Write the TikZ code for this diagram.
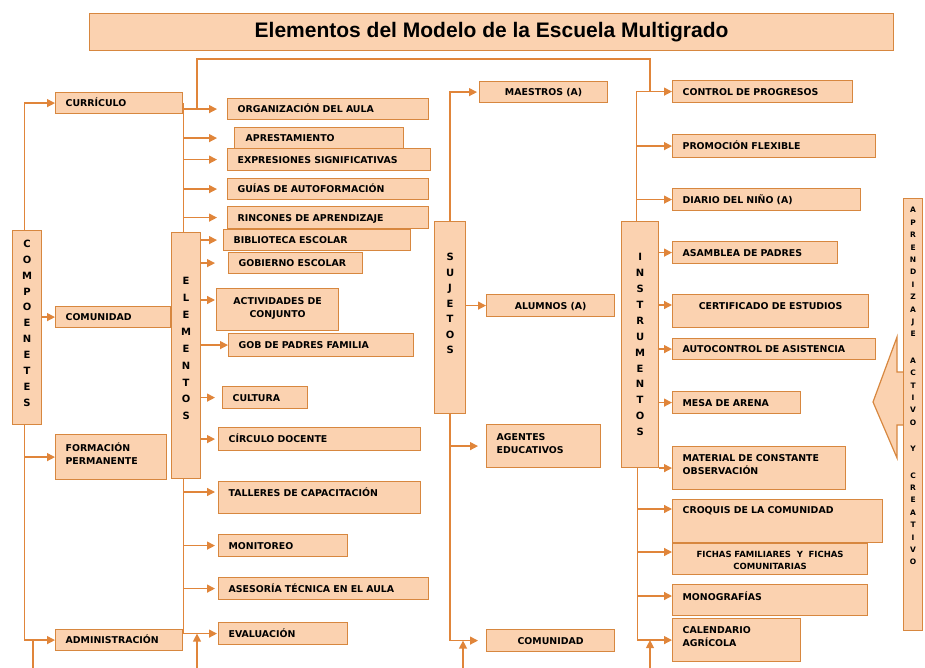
\documentclass[tikz,border=0pt]{standalone}
\usepackage{fontspec}
\setmainfont{Liberation Sans}
\newfontfamily\boxfont{DejaVu Sans}
\usepackage{tikz}
\usetikzlibrary{arrows.meta, positioning, backgrounds}
\definecolor{boxfill}{HTML}{FBD2B0}
\definecolor{boxdraw}{HTML}{D7873F}
\definecolor{linecol}{HTML}{E0853A}
\newcommand{\itemfont}{\boxfont\bfseries\fontsize{9.4}{13}\selectfont}
\newcommand{\smallitemfont}{\boxfont\bfseries\fontsize{8.5}{12}\selectfont}
\newcommand{\vfont}[1]{\boxfont\bfseries\fontsize{10}{#1}\selectfont}
\tikzstyle{arrow} = [draw=linecol, line width=1.3pt, -{Triangle[length=8pt,width=8pt]}]
\tikzstyle{link} = [draw=linecol, line width=1.3pt]
\tikzstyle{item} = [rectangle, draw=boxdraw, fill=boxfill, line width=1.2pt, inner xsep=10pt, inner ysep=0pt, text height=7pt, text depth=0pt, align=left, anchor=north west, font=\itemfont]
\tikzstyle{vbox} = [rectangle, draw=boxdraw, fill=boxfill, line width=1.2pt, inner sep=0pt, align=center, anchor=north west]
\tikzstyle{titlebox} = [rectangle, draw=boxdraw, fill=boxfill, line width=1.2pt, anchor=north west, font=\fontsize{21}{24}\selectfont\bfseries]

\begin{document}
\begin{tikzpicture}[x=1pt, y=-1pt]
\useasboundingbox (0,0) rectangle (925,668);

% Title
\node (title) [titlebox, minimum width=804pt, minimum height=37pt] at (89,13) {Elementos del Modelo de la Escuela Multigrado};

% Componentes
\node (compo) [vbox, minimum width=29pt, minimum height=194pt, text depth=9pt, font=\vfont{15.9}] at (12,230) {C\\O\\M\\P\\O\\E\\N\\E\\T\\E\\S};
\node (curr) [item, text width=107pt, minimum height=21pt] at (55,92) {CURRÍCULO};
\node (comu) [item, text width=95pt, minimum height=21pt] at (55,306) {COMUNIDAD};
\node (form) [item, text width=91pt, minimum height=45pt, text depth=19pt] at (55,434) {FORMACIÓN\\PERMANENTE};
\node (admin) [item, text width=107pt, minimum height=21pt] at (55,629) {ADMINISTRACIÓN};

% Elementos
\node (elem) [vbox, minimum width=29pt, minimum height=246pt, text depth=14pt, font=\vfont{16.9}] at (171,232) {E\\L\\E\\M\\E\\N\\T\\O\\S};
\node (org) [item, text width=181pt, minimum height=21pt] at (227,98) {ORGANIZACIÓN DEL AULA};
\node (apre) [item, text width=147pt, inner xsep=11pt, minimum height=21pt] at (234,127) {APRESTAMIENTO};
\node (expr) [item, text width=183pt, minimum height=22pt] at (227,148) {EXPRESIONES SIGNIFICATIVAS};
\node (guias) [item, text width=181pt, minimum height=21pt] at (227,178) {GUÍAS DE AUTOFORMACIÓN};
\node (rinc) [item, text width=181pt, minimum height=22pt] at (227,206) {RINCONES DE APRENDIZAJE};
\node (bibl) [item, text width=167pt, minimum height=21pt] at (223,229) {BIBLIOTECA ESCOLAR};
\node (gobe) [item, text width=114pt, minimum height=21pt] at (228,252) {GOBIERNO ESCOLAR};
\node (acti) [item, align=center, text width=102pt, minimum height=42pt, text depth=18pt] at (216,288) {ACTIVIDADES DE\\CONJUNTO};
\node (gobp) [item, text width=165pt, minimum height=23pt] at (228,333) {GOB DE PADRES FAMILIA};
\node (cult) [item, text width=65pt, minimum height=22pt] at (222,386) {CULTURA};
\node (circ) [item, text width=182pt, minimum height=23pt] at (218,427) {CÍRCULO DOCENTE};
\node (tall) [item, text width=182pt, minimum height=32pt, text depth=10pt] at (218,481) {TALLERES DE CAPACITACIÓN};
\node (moni) [item, text width=109pt, minimum height=22pt] at (218,534) {MONITOREO};
\node (ases) [item, text width=190pt, minimum height=22pt] at (218,577) {ASESORÍA TÉCNICA EN EL AULA};
\node (eval) [item, text width=109pt, minimum height=22pt] at (218,622) {EVALUACIÓN};

% Sujetos
\node (suje) [vbox, minimum width=31pt, minimum height=192pt, text depth=28pt, font=\vfont{15.5}] at (434,221) {S\\U\\J\\E\\T\\O\\S};
\node (maes) [item, align=center, text width=108pt, minimum height=21pt] at (479,81) {MAESTROS (A)};
\node (alum) [item, align=center, text width=108pt, minimum height=22pt] at (486,294) {ALUMNOS (A)};
\node (agen) [item, text width=94pt, minimum height=43pt, text depth=19pt] at (486,424) {AGENTES\\EDUCATIVOS};
\node (comr) [item, align=center, text width=108pt, minimum height=22pt] at (486,629) {COMUNIDAD};

% Instrumentos
\node (inst) [vbox, minimum width=37pt, minimum height=246pt, font=\vfont{15.9}] at (621,221) {I\\N\\S\\T\\R\\U\\M\\E\\N\\T\\O\\S};
\node (ctrl) [item, text width=160pt, minimum height=22pt] at (672,80) {CONTROL DE PROGRESOS};
\node (prom) [item, text width=183pt, minimum height=23pt] at (672,134) {PROMOCIÓN FLEXIBLE};
\node (diar) [item, text width=168pt, minimum height=22pt] at (672,188) {DIARIO DEL NIÑO (A)};
\node (asam) [item, text width=145pt, minimum height=22pt] at (672,241) {ASAMBLEA DE PADRES};
\node (cert) [item, align=center, text width=176pt, minimum height=33pt, text depth=11pt] at (672,294) {CERTIFICADO DE ESTUDIOS};
\node (auto) [item, text width=183pt, minimum height=21pt] at (672,338) {AUTOCONTROL DE ASISTENCIA};
\node (mesa) [item, text width=108pt, minimum height=22pt] at (672,391) {MESA DE ARENA};
\node (mate) [item, text width=153pt, minimum height=43pt, text depth=21pt] at (672,446) {MATERIAL DE CONSTANTE\\OBSERVACIÓN};
\node (croq) [item, text width=190pt, minimum height=43pt, text depth=23pt] at (672,499) {CROQUIS DE LA COMUNIDAD};
\node (fich) [item, align=center, text width=175pt, minimum height=31pt, text depth=10pt, font=\smallitemfont] at (672,543) {FICHAS FAMILIARES\ \ Y\ \ FICHAS\\COMUNITARIAS};
\node (mono) [item, text width=175pt, minimum height=31pt, text depth=7pt] at (672,584) {MONOGRAFÍAS};
\node (cale) [item, text width=108pt, minimum height=43pt, text depth=21pt] at (672,618) {CALENDARIO\\AGRÍCOLA};

% Aprendizaje
\node (apren) [vbox, minimum width=19pt, minimum height=432pt, text depth=57pt, font=\boxfont\bfseries\fontsize{7.5}{12.4}\selectfont] at (903,198) {A\\P\\R\\E\\N\\D\\I\\Z\\A\\J\\E\\[14pt]A\\C\\T\\I\\V\\O\\[14pt]Y\\[14pt]C\\R\\E\\A\\T\\I\\V\\O};

% Free ends and entry points
\coordinate (lbot) at ([xshift=-2.5pt]compo.south);
\coordinate (lfoot) at (33,668);
\coordinate (efoot) at (197,668);
\coordinate (sfoot) at (463,668);
\coordinate (ifoot) at (650,668);
\coordinate (topbar) at (0,59);
\coordinate (etrunk) at (curr.east);
\coordinate (itop) at ([xshift=-3.5pt]inst.north);
\coordinate (ibot) at ([xshift=-2.5pt]inst.south);
\coordinate (actin) at ([yshift=-12pt]acti.north west);
\coordinate (tallin) at ([yshift=-11pt]tall.north west);
\coordinate (certin) at ([yshift=-11pt]cert.north west);
\coordinate (croqin) at ([yshift=-10pt]croq.north west);
\coordinate (fichin) at ([yshift=-9pt]fich.north west);
\coordinate (monoin) at ([yshift=-12pt]mono.north west);

\begin{scope}[on background layer]
% Componentes
\draw [arrow] ([xshift=-2.5pt]compo.north) |- (curr.west);
\draw [arrow] (compo.east |- comu.west) -- (comu.west);
\draw [arrow] (lbot) |- (admin.west);
\draw [arrow] (lbot |- form.west) -- (form.west);
\draw [link] (lfoot) -- (lfoot |- admin.west);

% Elementos
\draw [link] (etrunk) -- (etrunk |- eval.west);
\foreach \n/\g in {org/10, apre/17, expr/10, guias/10, rinc/10, bibl/6, cult/7, moni/3, ases/3, eval/1}
  \draw [arrow, shorten >=\g pt] (etrunk |- \n.west) -- (\n.west);
\draw [arrow, shorten >=1pt] (etrunk |- actin) -- (actin);
\draw [arrow, shorten >=3pt] (etrunk |- tallin) -- (tallin);
\draw [arrow, shorten >=13pt] (elem.east |- gobe.west) -- (gobe.west);
\draw [arrow] (elem.east |- gobp.west) -- (gobp.west);
\draw [arrow, shorten >=3pt] (elem.east |- circ.west) -- (circ.west);
\draw [arrow] (efoot) -- (efoot |- eval.west);
\draw [link] (efoot |- org.west) |- (topbar -| ifoot) -- (ifoot |- ctrl.west);

% Sujetos
\draw [arrow, shorten >=2pt] (suje.north) |- (maes.west);
\draw [arrow] (suje.east |- alum.west) -- (alum.west);
\draw [arrow, shorten >=8pt] (suje.south) |- (comr.west);
\draw [arrow, shorten >=8pt] (suje.south |- agen.west) -- (agen.west);
\draw [arrow] (sfoot) -- (sfoot |- comr.west);

% Instrumentos
\draw [arrow] (itop) |- (ctrl.west);
\foreach \n in {prom, diar}
  \draw [arrow] (itop |- \n.west) -- (\n.west);
\foreach \n in {asam, auto, mesa, mate}
  \draw [arrow] (inst.east |- \n.west) -- (\n.west);
\draw [arrow] (inst.east |- certin) -- (certin);
\draw [arrow] (ibot) |- (cale.west);
\foreach \n in {croqin, fichin, monoin}
  \draw [arrow] (ibot |- \n) -- (\n);
\draw [arrow] (ifoot) -- (ifoot |- cale.west);

% Flecha de aprendizaje
\filldraw [draw=boxdraw, fill=boxfill, line width=1.2pt] (905,372) -- (897,372) -- (897,337) -- (873,402) -- (897,458) -- (897,425) -- (905,425) -- cycle;
\end{scope}

\end{tikzpicture}
\end{document}
